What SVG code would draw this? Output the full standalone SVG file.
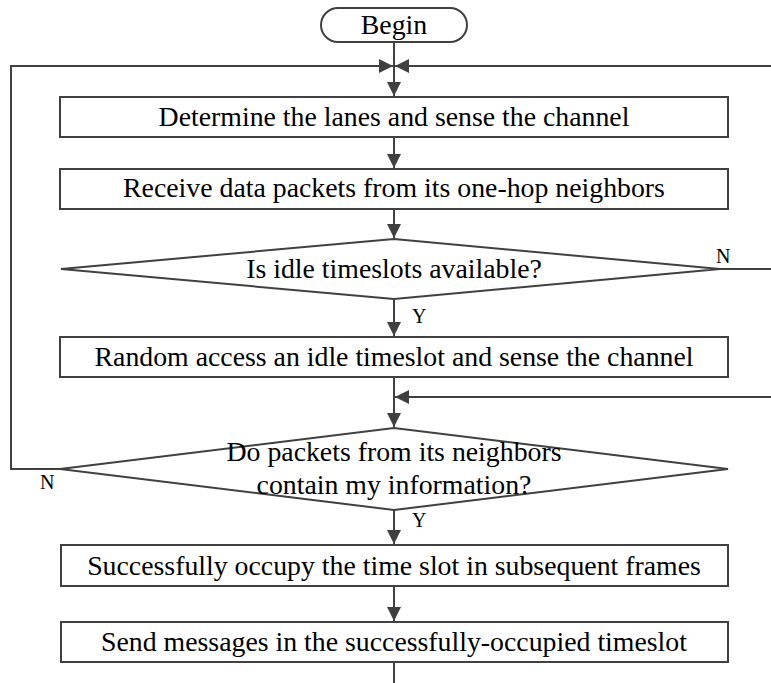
<svg xmlns="http://www.w3.org/2000/svg" width="771" height="683" viewBox="0 0 771 683">
<style>
.box{fill:#fff;stroke:#404040;stroke-width:2}
.ln{fill:none;stroke:#404040;stroke-width:2}
.t{font-family:"Liberation Serif","Times New Roman",serif;font-size:27.8px;fill:#000;text-anchor:middle}
.lb{font-family:"Liberation Serif","Times New Roman",serif;font-size:20px;fill:#000}
</style>
<defs>
<marker id="ah" markerWidth="14" markerHeight="14" viewBox="0 0 14 14" refX="14" refY="7" orient="auto" markerUnits="userSpaceOnUse">
<path d="M0,0 L14,7 L0,14 Z" fill="#404040"/>
</marker>
</defs>
<g id="connectors">
<path class="ln" d="M394,42 V96" marker-end="url(#ah)"/>
<path class="ln" d="M61,469 H11 V66 H393" marker-end="url(#ah)"/>
<path class="ln" d="M720,269 H790 V66 H395" marker-end="url(#ah)"/>
<path class="ln" d="M790,397 H395" marker-end="url(#ah)"/>
<path class="ln" d="M394,137 V168" marker-end="url(#ah)"/>
<path class="ln" d="M394,209 V238" marker-end="url(#ah)"/>
<path class="ln" d="M394,299 V336" marker-end="url(#ah)"/>
<path class="ln" d="M394,377 V427" marker-end="url(#ah)"/>
<path class="ln" d="M394,510 V544" marker-end="url(#ah)"/>
<path class="ln" d="M394,586 V621" marker-end="url(#ah)"/>
<path class="ln" d="M394,662 V690"/>
<text class="lb" x="716" y="263">N</text>
<text class="lb" x="412" y="323">Y</text>
<text class="lb" x="40" y="489">N</text>
<text class="lb" x="412" y="527">Y</text>
</g>
<g id="begin">
<rect class="box" x="321" y="8" width="146" height="34" rx="17"/>
<text class="t" x="394" y="34">Begin</text>
</g>
<g id="determine">
<rect class="box" x="60" y="97" width="668" height="40"/>
<text class="t" x="394" y="126">Determine the lanes and sense the channel</text>
</g>
<g id="receive">
<rect class="box" x="60" y="169" width="668" height="40"/>
<text class="t" x="394" y="197">Receive data packets from its one-hop neighbors</text>
</g>
<g id="idle">
<polygon class="box" points="61,269 394,239 720,269 394,299"/>
<text class="t" x="394" y="278">Is idle timeslots available?</text>
</g>
<g id="random">
<rect class="box" x="60" y="337" width="668" height="40"/>
<text class="t" x="394" y="366">Random access an idle timeslot and sense the channel</text>
</g>
<g id="contain">
<polygon class="box" points="60,469 394,428 728,469 394,510"/>
<text class="t" x="394" y="461">Do packets from its neighbors</text>
<text class="t" x="394" y="494">contain my information?</text>
</g>
<g id="occupy">
<rect class="box" x="61" y="545" width="667" height="41"/>
<text class="t" x="394" y="575">Successfully occupy the time slot in subsequent frames</text>
</g>
<g id="send">
<rect class="box" x="61" y="622" width="667" height="40"/>
<text class="t" x="394" y="651">Send messages in the successfully-occupied timeslot</text>
</g>
</svg>
